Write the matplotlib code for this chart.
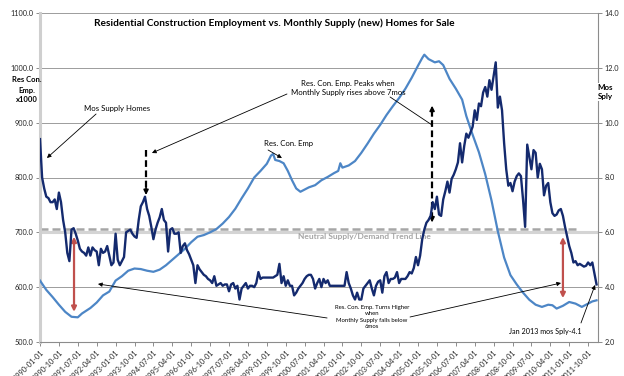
import numpy as np
import matplotlib
matplotlib.use('Agg')
import matplotlib.pyplot as plt

plt.rcParams['font.family'] = ['Lato', 'DejaVu Sans']

# x axis: one category per month starting 1990-01
tick_labels = ['1990-01-01', '1990-10-01', '1991-07-01', '1992-04-01', '1993-01-01',
               '1993-10-01', '1994-07-01', '1995-04-01', '1996-01-01', '1996-10-01',
               '1997-07-01', '1998-04-01', '1999-01-01', '1999-10-01', '2000-07-01',
               '2001-04-01', '2002-01-01', '2002-10-01', '2003-07-01', '2004-04-01',
               '2005-01-01', '2005-10-01', '2006-07-01', '2007-04-01', '2008-01-01',
               '2008-10-01', '2009-07-01', '2010-04-01', '2011-01-01', '2011-10-01']

# months supply of new homes (right axis), monthly
supply = [9.4, 8.0, 7.6, 7.3, 7.25, 7.1, 7.1, 7.2, 6.85, 7.45,
          7.1, 6.45, 6.0, 5.25, 4.95, 6.1, 6.15, 5.95, 5.7, 5.4,
          5.3, 5.25, 5.15, 5.45, 5.15, 5.45, 5.35, 5.3, 4.8, 5.4,
          5.25, 5.3, 5.5, 5.15, 4.8, 4.9, 5.95, 5.0, 4.8, 4.95,
          5.1, 6.0, 6.05, 6.1, 5.95, 5.85, 5.8, 6.45, 6.95, 7.1,
          7.3, 6.85, 6.6, 6.2, 5.75, 6.1, 6.35, 6.55, 6.85, 6.45,
          6.35, 5.3, 6.1, 6.15, 5.95, 5.95, 6.0, 5.25, 5.5, 5.6,
          5.35, 5.2, 5.0, 4.8, 4.15, 4.8, 4.65, 4.55, 4.45, 4.4,
          4.3, 4.25, 4.15, 4.4, 4.05, 4.1, 4.15, 4.05, 4.1, 4.1,
          3.85, 4.1, 4.15, 3.95, 4.05, 3.55, 3.95, 4.05, 4.15, 3.95,
          4.05, 4.05, 4.0, 4.15, 4.55, 4.3, 4.35, 4.35, 4.35, 4.35,
          4.35, 4.35, 4.4, 4.45, 4.85, 4.15, 4.4, 4.05, 4.25, 4.05,
          4.05, 3.7, 3.8, 3.95, 4.05, 4.15, 4.3, 4.4, 4.45, 4.45,
          4.3, 3.95, 4.15, 4.3, 4.0, 4.3, 4.15, 4.25, 4.05, 4.05,
          4.05, 4.05, 4.05, 4.05, 4.05, 4.05, 4.55, 4.15, 3.95, 3.7,
          3.55, 3.8, 3.55, 3.55, 3.95, 4.05, 4.15, 4.25, 3.95, 3.7,
          4.05, 4.2, 4.25, 3.8, 4.4, 4.55, 4.15, 4.3, 4.3, 4.35,
          4.55, 4.15, 4.3, 4.3, 4.3, 4.4, 4.55, 4.5, 4.7, 5.1,
          4.8, 5.15, 5.75, 6.1, 6.35, 6.45, 6.6, 7.1, 6.85, 7.3,
          6.65, 6.6, 7.2, 7.5, 7.85, 7.45, 7.95, 8.1, 8.3, 8.55,
          9.25, 8.55, 9.15, 9.6, 9.45, 9.65, 9.85, 10.45, 10.1, 10.7,
          10.6, 11.1, 11.3, 10.95, 11.55, 11.2, 11.7, 12.2, 10.55, 10.95,
          10.45, 9.25, 8.3, 7.7, 7.8, 7.5, 7.85, 8.05, 8.15, 8.05,
          7.2, 6.2, 9.2, 8.75, 8.3, 9.0, 8.9, 8.0, 8.5, 8.3,
          7.35, 7.7, 7.8, 7.1, 6.7, 6.6, 6.65, 6.8, 6.85, 6.6,
          6.2, 5.85, 5.5, 5.25, 4.9, 4.95, 4.8, 4.85, 4.8, 4.75,
          4.78, 4.9, 4.8, 4.9, 4.5, 4.1]

# residential construction employment x1000 (left axis), read at these months
emp_month = [0, 3, 6, 9, 12, 15, 18, 20, 24, 27, 30, 33, 36, 39, 42, 45, 48, 51, 54, 57,
             60, 63, 66, 69, 72, 75, 78, 81, 84, 87, 90, 93, 96, 99, 102, 105, 108, 110, 111, 112,
             114, 116, 118, 120, 122, 124, 126, 128, 131, 134, 137, 140, 142, 143, 144, 147, 150, 153, 156, 159,
             162, 165, 168, 171, 174, 177, 180, 182, 183, 185, 186, 188, 190, 192, 195, 198, 201, 203, 206, 209,
             212, 215, 218, 221, 224, 227, 230, 233, 236, 239, 242, 244, 246, 249, 252, 255, 258, 261, 263, 265]
emp = [612, 595, 582, 568, 555, 546, 545, 552, 562, 572, 585, 592, 612, 620, 630, 634, 633, 630, 628, 632,
       640, 650, 660, 670, 682, 692, 695, 700, 706, 716, 728, 743, 762, 780, 800, 812, 825, 840, 843, 832,
       830, 826, 812, 795, 780, 774, 778, 782, 786, 795, 801, 808, 812, 826, 818, 822, 830, 845, 862, 880,
       896, 914, 930, 945, 962, 982, 1004, 1018, 1024, 1016, 1014, 1010, 1012, 1005, 980, 962, 942, 912, 878, 846,
       806, 758, 702, 654, 622, 605, 590, 577, 568, 564, 568, 567, 561, 566, 573, 570, 564, 570, 574, 576]

neutral_level = 706

navy = '#142a6e'
lightblue = '#4d86c6'
red = '#c0504d'
grid = '#9c9c9c'

fig = plt.figure(figsize=(6.24, 3.76), dpi=100)
ax = fig.add_axes([40 / 624, 1 - 342 / 376, 558 / 624, 329 / 376])
ax2 = ax.twinx()

ax.plot(emp_month, emp, color=lightblue, lw=1.6, zorder=3)
ax2.plot(np.arange(len(supply)), supply, color=navy, lw=1.7, zorder=3)

ax.set_ylim(500, 1100)
ax2.set_ylim(2, 14)
ax.set_xlim(0, 265.7)
ax.set_yticks(np.arange(500, 1101, 100))
ax2.set_yticks(np.arange(2, 15, 2))
ax.set_yticklabels(['%.1f' % v for v in np.arange(500, 1101, 100)])
ax2.set_yticklabels(['%.1f' % v for v in np.arange(2, 15, 2)])
ax.set_xticks(np.arange(0, 9 * len(tick_labels), 9))
ax.set_xticklabels(tick_labels, rotation=45, ha='right', rotation_mode='anchor')

ax.yaxis.grid(True, color=grid, lw=0.7)
ax.set_axisbelow(True)
ax.axhline(700, color='#d4d4d4', lw=2.2, zorder=1)

for a in (ax, ax2):
    a.tick_params(axis='both', labelsize=5.3, colors='#8c8c8c', labelcolor='#262626',
                  length=3, width=0.7, pad=2)
    a.spines['top'].set_visible(False)
ax.spines['right'].set_visible(False)
ax2.spines['left'].set_visible(False)
ax2.spines['bottom'].set_visible(False)
ax.spines['left'].set_color('#cfcfcf')
ax.spines['left'].set_linewidth(2.2)
ax.spines['bottom'].set_color('#8c8c8c')
ax.spines['bottom'].set_linewidth(0.8)
ax2.spines['right'].set_color('#8c8c8c')
ax2.spines['right'].set_linewidth(0.8)

# neutral supply/demand trend line
ax.plot([0, 255.7], [neutral_level, neutral_level], color='#a6a6a6', lw=1.8,
        dashes=(3.2, 1.6), zorder=2)
ax.text(154.3, 691.5, 'Neutral Supply/Demand Trend Line', color='#a6a6a6',
        fontsize=6, fontweight='bold', ha='center', va='center')

# title and axis labels
fig.text(274 / 624, 1 - 23 / 376,
         'Residential Construction Employment vs. Monthly Supply (new) Homes for Sale',
         fontsize=7.3, fontweight='bold', ha='center', va='center')
fig.text(27 / 624, 1 - 90 / 376, 'Res Con.\nEmp.\nx1000', fontsize=5.5, fontweight='bold',
         ha='center', va='center', linespacing=1.5)
fig.text(605 / 624, 1 - 92 / 376, 'Mos\nSply', fontsize=5.8, fontweight='bold',
         ha='center', va='center', linespacing=1.5,
         bbox=dict(facecolor='white', edgecolor='none', pad=0.5))

thin = dict(arrowstyle='-|>', color='black', lw=0.6, mutation_scale=6,
            shrinkA=0, shrinkB=0)

ax.text(36.7, 926.7, 'Mos Supply Homes', fontsize=5.6, ha='center', va='center')
ax.annotate('', xy=(3.3, 835.6), xytext=(26.7, 915.8), arrowprops=thin)

ax.text(146.7, 963.2, 'Res. Con. Emp. Peaks when\nMonthly Supply rises above 7mos',
        fontsize=5.6, ha='center', va='center', linespacing=1.3)
ax.annotate('', xy=(53.3, 844.7), xytext=(117.6, 952.3), arrowprops=thin)
ax.annotate('', xy=(186.7, 895.7), xytext=(166.7, 946.8),
            arrowprops=dict(arrowstyle='-', color='black', lw=0.6, shrinkA=0, shrinkB=0))

ax.text(118.1, 862.9, 'Res. Con. Emp', fontsize=5.6, ha='center', va='center')
ax.annotate('', xy=(115.2, 835.6), xytext=(108.6, 850.2), arrowprops=thin)

ax.text(158.1, 545.6, 'Res. Con. Emp. Turns Higher\nwhen\nMonthly Supply falls below\n6mos',
        fontsize=4.3, ha='center', va='center', linespacing=1.3)
ax.annotate('', xy=(27.6, 605.8), xytext=(136.7, 543.8), arrowprops=thin)
ax.annotate('', xy=(248.1, 607.6), xytext=(176.2, 545.6), arrowprops=thin)

ax.text(240.7, 520, 'Jan 2013 mos Sply-4.1', fontsize=5.2, ha='center', va='center')
ax.annotate('', xy=(264.3, 604), xytext=(257.6, 534.7), arrowprops=thin)

# dashed black arrows
ax.plot([50.5, 50.5], [851, 776], color='black', lw=1.6, dashes=(3, 1.6), zorder=4)
ax.annotate('', xy=(50.5, 768), xytext=(50.5, 782),
            arrowprops=dict(arrowstyle='-|>', color='black', lw=1.2, mutation_scale=7,
                            shrinkA=0, shrinkB=0))
ax.plot([186.7, 186.7], [923, 726], color='black', lw=1.6, dashes=(3, 1.6), zorder=4)
ax.annotate('', xy=(186.7, 931), xytext=(186.7, 917),
            arrowprops=dict(arrowstyle='-|>', color='black', lw=1.2, mutation_scale=7,
                            shrinkA=0, shrinkB=0))
ax.annotate('', xy=(186.7, 718), xytext=(186.7, 732),
            arrowprops=dict(arrowstyle='-|>', color='black', lw=1.2, mutation_scale=7,
                            shrinkA=0, shrinkB=0))

# red double arrows
red_arrow = dict(arrowstyle='<|-|>', color=red, lw=1.6, mutation_scale=7,
                 shrinkA=0, shrinkB=0)
ax.annotate('', xy=(16.2, 555), xytext=(16.2, 692), arrowprops=red_arrow)
ax.annotate('', xy=(249, 580), xytext=(249, 691.5), arrowprops=red_arrow)

fig.savefig('out.png', dpi=100)
